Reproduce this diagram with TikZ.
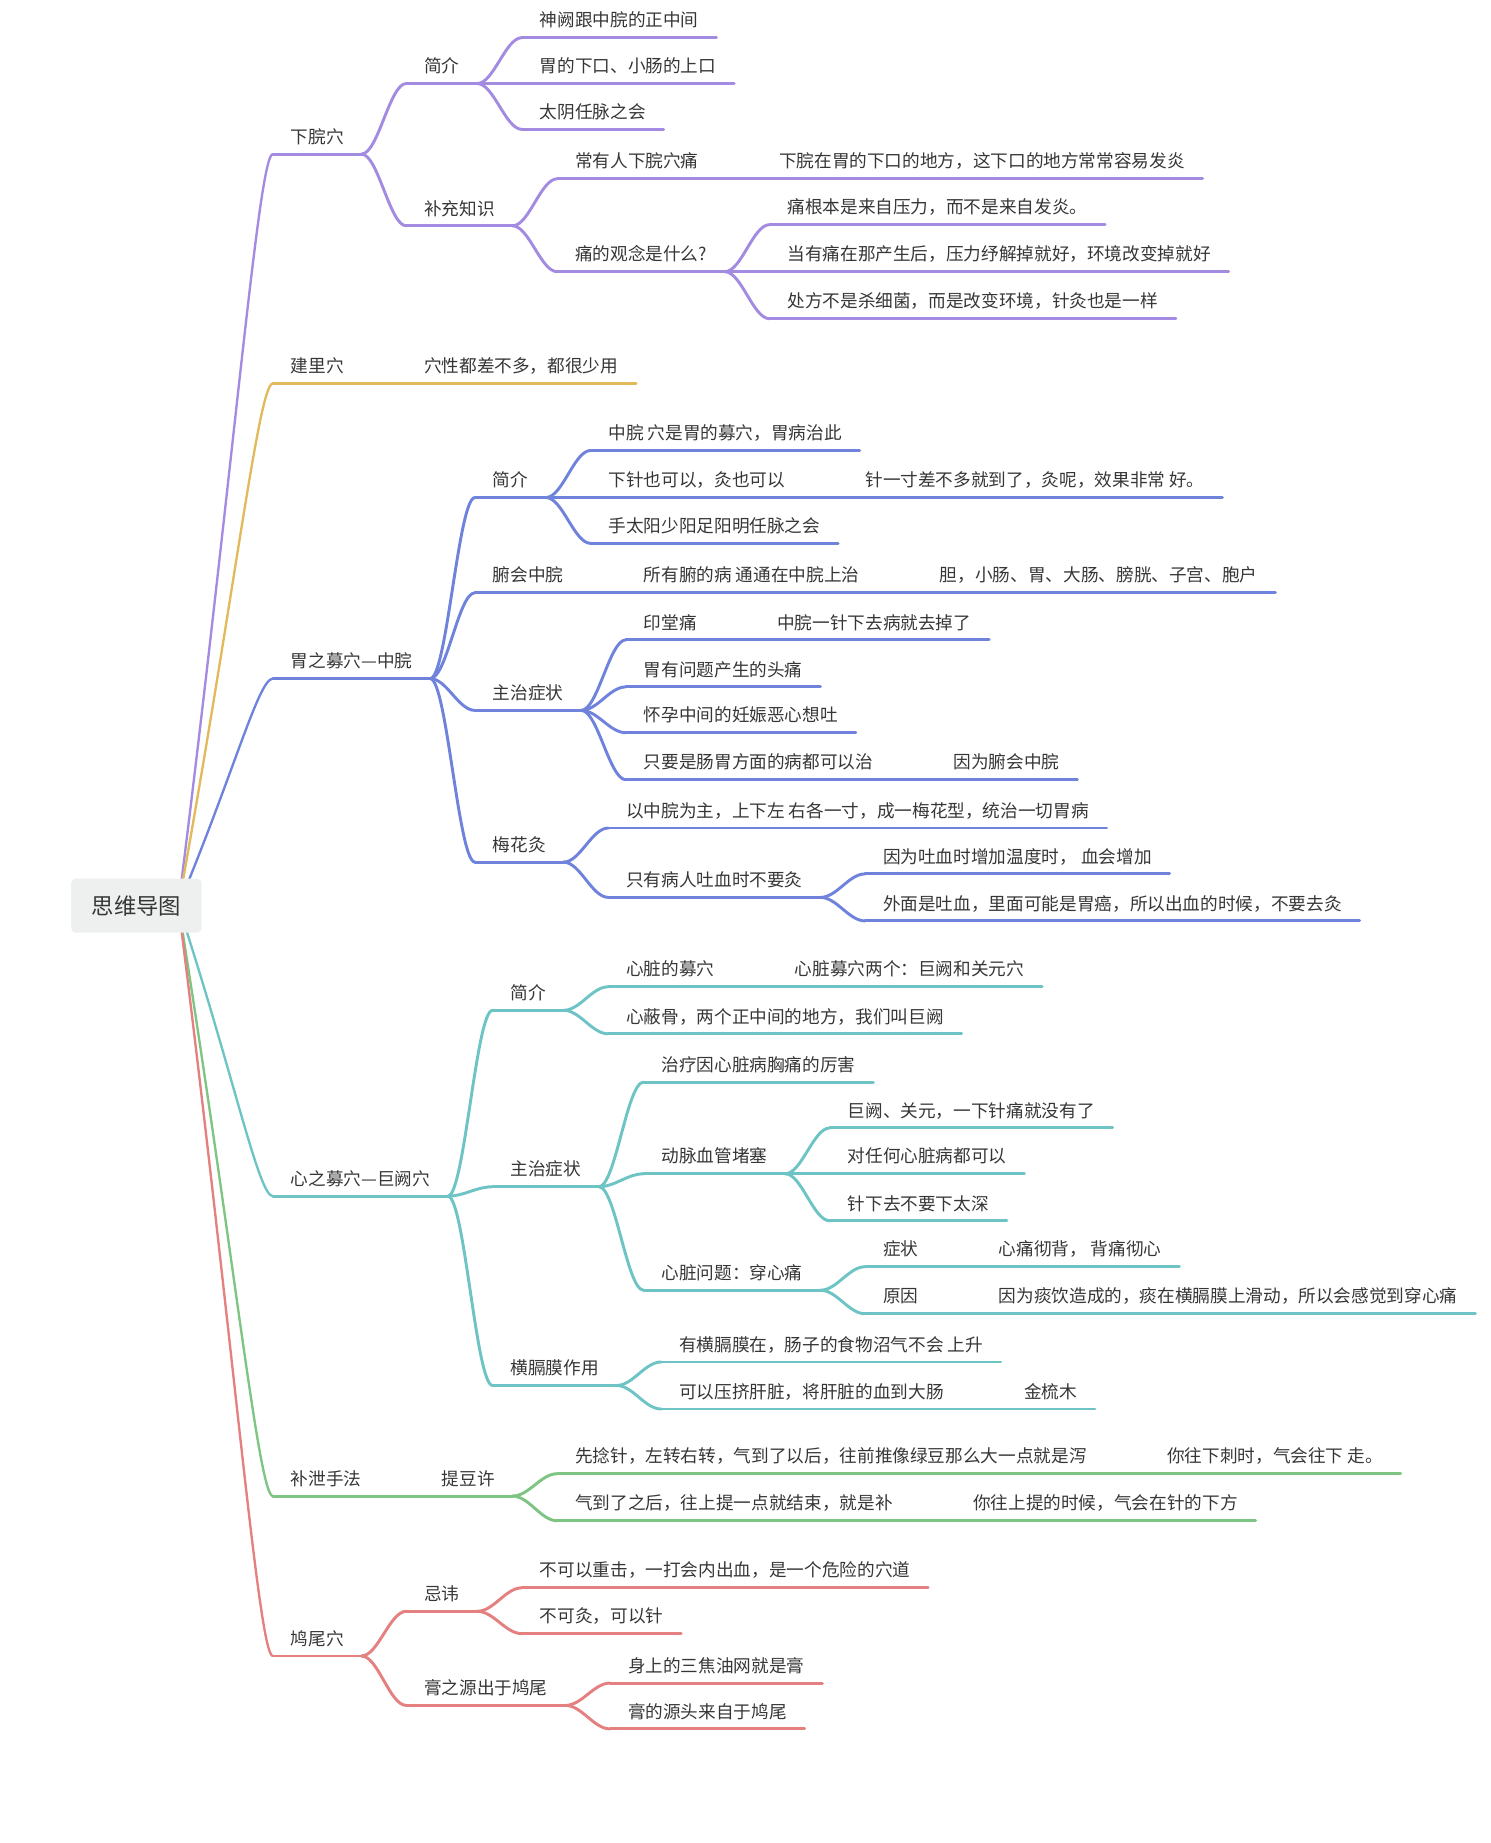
\documentclass[tikz,border=0pt]{standalone}
\usepackage{fontspec}
\setmainfont{Noto Sans CJK SC}
\usetikzlibrary{calc,backgrounds}

\definecolor{txt}{HTML}{363636}
\definecolor{cpurple}{RGB}{163,139,225}
\definecolor{cyellow}{RGB}{226,186,92}
\definecolor{cblue}{RGB}{112,131,220}
\definecolor{cteal}{RGB}{110,196,196}
\definecolor{cgreen}{RGB}{126,196,130}
\definecolor{cred}{RGB}{228,128,128}
\definecolor{rootfill}{RGB}{238,240,240}

\begin{document}
\begin{tikzpicture}[x=1pt, y=-1pt,
    topic/.style={anchor=south west, inner xsep=15pt, inner ysep=0pt,
        text height=12pt, text depth=9pt, text=txt,
        font=\fontsize{15pt}{18pt}\selectfont,
        append after command={(\tikzlastnode.south west) edge[uline] (\tikzlastnode.south east)}},
    uline/.style={draw, line width=2.5pt, line cap=round},
    lk/.style={line width=2.5pt, line cap=round,
        to path={.. controls +(14,0) and +(-14,0) .. (\tikztotarget)}},
    rootlk/.style={line width=2pt,
        to path={.. controls ($(\tikztostart)!0.6!(\tikztotarget)$) and ($(\tikztotarget)+(-12,0)$) .. (\tikztotarget)}},
    root/.style={fill=rootfill, rounded corners=4pt, minimum width=111pt,
        minimum height=46pt, inner sep=0pt, text=txt,
        font=\fontsize{19pt}{22pt}\selectfont}]
    \useasboundingbox (0,0) rectangle (1267,1567);

    \node[root] (root) at (116,770) {思维导图};
    \coordinate (hub) at ([xshift=-20pt]root.east);

    % 下脘穴
    \begin{scope}[color=cpurple]
    \node[topic] (xiawan) at (232,131) {下脘穴};
    \node[topic] (xwintro) at ($(xiawan.south east)+(38,-60)$) {简介};
    \node[topic] (xwi1) at ($(xwintro.south east)+(38,-39)$) {神阙跟中脘的正中间};
    \node[topic] (xwi2) at ($(xwintro.south east)+(38,0)$) {胃的下口、小肠的上口};
    \node[topic] (xwi3) at ($(xwintro.south east)+(38,39)$) {太阴任脉之会};
    \node[topic] (xwmore) at ($(xiawan.south east)+(38,61)$) {补充知识};
    \node[topic] (xwpain) at ($(xwmore.south east)+(38,-40)$) {常有人下脘穴痛};
    \node[topic] (xwpainn) at ($(xwpain.south east)+(38,0)$) {下脘在胃的下口的地方，这下口的地方常常容易发炎};
    \node[topic] (xwidea) at ($(xwmore.south east)+(38,39)$) {痛的观念是什么?};
    \node[topic] (xwidea1) at ($(xwidea.south east)+(38,-40)$) {痛根本是来自压力，而不是来自发炎。};
    \node[topic] (xwidea2) at ($(xwidea.south east)+(38,0)$) {当有痛在那产生后，压力纾解掉就好，环境改变掉就好};
    \node[topic] (xwidea3) at ($(xwidea.south east)+(38,40)$) {处方不是杀细菌，而是改变环境，针灸也是一样};

    \draw[lk] (xiawan.south east) to (xwintro.south west);
    \draw[lk] (xiawan.south east) to (xwmore.south west);
    \draw[lk] (xwintro.south east) to (xwi1.south west);
    \draw[lk] (xwintro.south east) to (xwi2.south west);
    \draw[lk] (xwintro.south east) to (xwi3.south west);
    \draw[lk] (xwmore.south east) to (xwpain.south west);
    \draw[lk] (xwpain.south east) to (xwpainn.south west);
    \draw[lk] (xwmore.south east) to (xwidea.south west);
    \draw[lk] (xwidea.south east) to (xwidea1.south west);
    \draw[lk] (xwidea.south east) to (xwidea2.south west);
    \draw[lk] (xwidea.south east) to (xwidea3.south west);
    \end{scope}

    % 建里穴
    \begin{scope}[color=cyellow]
    \node[topic] (jianli) at (232,326) {建里穴};
    \node[topic] (jlnote) at ($(jianli.south east)+(38,0)$) {穴性都差不多，都很少用};
    \draw[lk] (jianli.south east) to (jlnote.south west);
    \end{scope}

    % 胃之募穴
    \begin{scope}[color=cblue]
    \node[topic] (zhongwan) at (232,577) {胃之募穴—中脘};
    \node[topic] (zwintro) at ($(zhongwan.south east)+(38,-154)$) {简介};
    \node[topic] (zwi1) at ($(zwintro.south east)+(38,-40)$) {中脘 穴是胃的募穴，胃病治此};
    \node[topic] (zwi2) at ($(zwintro.south east)+(38,0)$) {下针也可以，灸也可以};
    \node[topic] (zwi2n) at ($(zwi2.south east)+(38,0)$) {针一寸差不多就到了，灸呢，效果非常 好。};
    \node[topic] (zwi3) at ($(zwintro.south east)+(38,39)$) {手太阳少阳足阳明任脉之会};
    \node[topic] (zwfu) at ($(zhongwan.south east)+(38,-73)$) {腑会中脘};
    \node[topic] (zwfu1) at ($(zwfu.south east)+(38,0)$) {所有腑的病 通通在中脘上治};
    \node[topic] (zwfu2) at ($(zwfu1.south east)+(38,0)$) {胆，小肠、胃、大肠、膀胱、子宫、胞户};
    \node[topic] (zwcure) at ($(zhongwan.south east)+(38,27)$) {主治症状};
    \node[topic] (zwc1) at ($(zwcure.south east)+(38,-60)$) {印堂痛};
    \node[topic] (zwc1n) at ($(zwc1.south east)+(38,0)$) {中脘一针下去病就去掉了};
    \node[topic] (zwc2) at ($(zwcure.south east)+(38,-20)$) {胃有问题产生的头痛};
    \node[topic] (zwc3) at ($(zwcure.south east)+(38,19)$) {怀孕中间的妊娠恶心想吐};
    \node[topic] (zwc4) at ($(zwcure.south east)+(38,59)$) {只要是肠胃方面的病都可以治};
    \node[topic] (zwc4n) at ($(zwc4.south east)+(38,0)$) {因为腑会中脘};
    \node[topic] (zwmei) at ($(zhongwan.south east)+(38,156)$) {梅花灸};
    \node[topic] (zwm1) at ($(zwmei.south east)+(38,-29)$) {以中脘为主，上下左 右各一寸，成一梅花型，统治一切胃病};
    \node[topic] (zwm2) at ($(zwmei.south east)+(38,30)$) {只有病人吐血时不要灸};
    \node[topic] (zwm21) at ($(zwm2.south east)+(38,-20)$) {因为吐血时增加温度时， 血会增加};
    \node[topic] (zwm22) at ($(zwm2.south east)+(38,20)$) {外面是吐血，里面可能是胃癌，所以出血的时候，不要去灸};

    \draw[lk] (zhongwan.south east) to (zwintro.south west);
    \draw[lk] (zhongwan.south east) to (zwfu.south west);
    \draw[lk] (zhongwan.south east) to (zwcure.south west);
    \draw[lk] (zhongwan.south east) to (zwmei.south west);
    \draw[lk] (zwintro.south east) to (zwi1.south west);
    \draw[lk] (zwintro.south east) to (zwi2.south west);
    \draw[lk] (zwi2.south east) to (zwi2n.south west);
    \draw[lk] (zwintro.south east) to (zwi3.south west);
    \draw[lk] (zwfu.south east) to (zwfu1.south west);
    \draw[lk] (zwfu1.south east) to (zwfu2.south west);
    \draw[lk] (zwcure.south east) to (zwc1.south west);
    \draw[lk] (zwc1.south east) to (zwc1n.south west);
    \draw[lk] (zwcure.south east) to (zwc2.south west);
    \draw[lk] (zwcure.south east) to (zwc3.south west);
    \draw[lk] (zwcure.south east) to (zwc4.south west);
    \draw[lk] (zwc4.south east) to (zwc4n.south west);
    \draw[lk] (zwmei.south east) to (zwm1.south west);
    \draw[lk] (zwmei.south east) to (zwm2.south west);
    \draw[lk] (zwm2.south east) to (zwm21.south west);
    \draw[lk] (zwm2.south east) to (zwm22.south west);
    \end{scope}

    % 心之募穴
    \begin{scope}[color=cteal]
    \node[topic] (juque) at (232,1017) {心之募穴—巨阙穴};
    \node[topic] (jqintro) at ($(juque.south east)+(38,-158)$) {简介};
    \node[topic] (jqi1) at ($(jqintro.south east)+(38,-20)$) {心脏的募穴};
    \node[topic] (jqi1n) at ($(jqi1.south east)+(38,0)$) {心脏募穴两个：巨阙和关元穴};
    \node[topic] (jqi2) at ($(jqintro.south east)+(38,20)$) {心蔽骨，两个正中间的地方，我们叫巨阙};
    \node[topic] (jqcure) at ($(juque.south east)+(38,-8)$) {主治症状};
    \node[topic] (jqc1) at ($(jqcure.south east)+(38,-89)$) {治疗因心脏病胸痛的厉害};
    \node[topic] (jqc2) at ($(jqcure.south east)+(38,-11)$) {动脉血管堵塞};
    \node[topic] (jqc21) at ($(jqc2.south east)+(38,-39)$) {巨阙、关元，一下针痛就没有了};
    \node[topic] (jqc22) at ($(jqc2.south east)+(38,0)$) {对任何心脏病都可以};
    \node[topic] (jqc23) at ($(jqc2.south east)+(38,40)$) {针下去不要下太深};
    \node[topic] (jqc3) at ($(jqcure.south east)+(38,88)$) {心脏问题：穿心痛};
    \node[topic] (jqc31) at ($(jqc3.south east)+(38,-20)$) {症状};
    \node[topic] (jqc31n) at ($(jqc31.south east)+(38,0)$) {心痛彻背， 背痛彻心};
    \node[topic] (jqc32) at ($(jqc3.south east)+(38,20)$) {原因};
    \node[topic] (jqc32n) at ($(jqc32.south east)+(38,0)$) {因为痰饮造成的，痰在横膈膜上滑动，所以会感觉到穿心痛};
    \node[topic] (jqgeji) at ($(juque.south east)+(38,161)$) {横膈膜作用};
    \node[topic] (jqg1) at ($(jqgeji.south east)+(38,-20)$) {有横膈膜在，肠子的食物沼气不会 上升};
    \node[topic] (jqg2) at ($(jqgeji.south east)+(38,20)$) {可以压挤肝脏，将肝脏的血到大肠};
    \node[topic] (jqg2n) at ($(jqg2.south east)+(38,0)$) {金梳木};

    \draw[lk] (juque.south east) to (jqintro.south west);
    \draw[lk] (juque.south east) to (jqcure.south west);
    \draw[lk] (juque.south east) to (jqgeji.south west);
    \draw[lk] (jqintro.south east) to (jqi1.south west);
    \draw[lk] (jqi1.south east) to (jqi1n.south west);
    \draw[lk] (jqintro.south east) to (jqi2.south west);
    \draw[lk] (jqcure.south east) to (jqc1.south west);
    \draw[lk] (jqcure.south east) to (jqc2.south west);
    \draw[lk] (jqc2.south east) to (jqc21.south west);
    \draw[lk] (jqc2.south east) to (jqc22.south west);
    \draw[lk] (jqc2.south east) to (jqc23.south west);
    \draw[lk] (jqcure.south east) to (jqc3.south west);
    \draw[lk] (jqc3.south east) to (jqc31.south west);
    \draw[lk] (jqc31.south east) to (jqc31n.south west);
    \draw[lk] (jqc3.south east) to (jqc32.south west);
    \draw[lk] (jqc32.south east) to (jqc32n.south west);
    \draw[lk] (jqgeji.south east) to (jqg1.south west);
    \draw[lk] (jqgeji.south east) to (jqg2.south west);
    \draw[lk] (jqg2.south east) to (jqg2n.south west);
    \end{scope}

    % 补泄手法
    \begin{scope}[color=cgreen]
    \node[topic] (buxie) at (232,1272) {补泄手法};
    \node[topic] (btdx) at ($(buxie.south east)+(38,0)$) {提豆许};
    \node[topic] (bt1) at ($(btdx.south east)+(38,-19)$) {先捻针，左转右转，气到了以后，往前推像绿豆那么大一点就是泻};
    \node[topic] (bt1n) at ($(bt1.south east)+(38,0)$) {你往下刺时，气会往下 走。};
    \node[topic] (bt2) at ($(btdx.south east)+(38,21)$) {气到了之后，往上提一点就结束，就是补};
    \node[topic] (bt2n) at ($(bt2.south east)+(38,0)$) {你往上提的时候，气会在针的下方};

    \draw[lk] (buxie.south east) to (btdx.south west);
    \draw[lk] (btdx.south east) to (bt1.south west);
    \draw[lk] (bt1.south east) to (bt1n.south west);
    \draw[lk] (btdx.south east) to (bt2.south west);
    \draw[lk] (bt2.south east) to (bt2n.south west);
    \end{scope}

    % 鸠尾穴
    \begin{scope}[color=cred]
    \node[topic] (jiuwei) at (232,1408) {鸠尾穴};
    \node[topic] (jwtaboo) at ($(jiuwei.south east)+(38,-38)$) {忌讳};
    \node[topic] (jwt1) at ($(jwtaboo.south east)+(38,-20)$) {不可以重击，一打会内出血，是一个危险的穴道};
    \node[topic] (jwt2) at ($(jwtaboo.south east)+(38,19)$) {不可灸，可以针};
    \node[topic] (jwgao) at ($(jiuwei.south east)+(38,42)$) {膏之源出于鸠尾};
    \node[topic] (jwg1) at ($(jwgao.south east)+(38,-19)$) {身上的三焦油网就是膏};
    \node[topic] (jwg2) at ($(jwgao.south east)+(38,20)$) {膏的源头来自于鸠尾};

    \draw[lk] (jiuwei.south east) to (jwtaboo.south west);
    \draw[lk] (jiuwei.south east) to (jwgao.south west);
    \draw[lk] (jwtaboo.south east) to (jwt1.south west);
    \draw[lk] (jwtaboo.south east) to (jwt2.south west);
    \draw[lk] (jwgao.south east) to (jwg1.south west);
    \draw[lk] (jwgao.south east) to (jwg2.south west);
    \end{scope}

    % root branches, behind the root box
    \begin{scope}[on background layer]
    \draw[rootlk, cpurple] (hub) to (xiawan.south west);
    \draw[rootlk, cyellow] (hub) to (jianli.south west);
    \draw[rootlk, cblue] (hub) to (zhongwan.south west);
    \draw[rootlk, cteal] (hub) to (juque.south west);
    \draw[rootlk, cgreen] (hub) to (buxie.south west);
    \draw[rootlk, cred] (hub) to (jiuwei.south west);
    \end{scope}
\end{tikzpicture}
\end{document}
